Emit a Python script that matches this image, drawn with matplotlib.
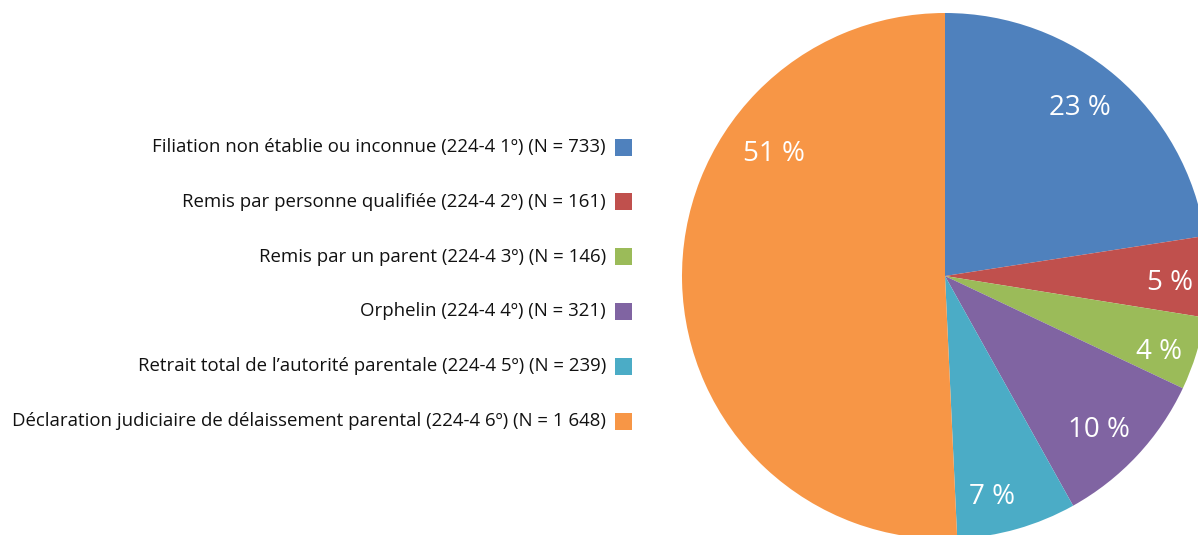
import numpy as np
import matplotlib
matplotlib.use('Agg')
import matplotlib.pyplot as plt
from matplotlib.patches import Rectangle

labels = ['Filiation non établie ou inconnue (224-4 1º) (N = 733)',
          'Remis par personne qualifiée (224-4 2º) (N = 161)',
          'Remis par un parent (224-4 3º) (N = 146)',
          'Orphelin (224-4 4º) (N = 321)',
          "Retrait total de l\u2019autorité parentale (224-4 5º) (N = 239)",
          'Déclaration judiciaire de délaissement parental (224-4 6º) (N = 1 648)']
counts = [733, 161, 146, 321, 239, 1648]
pct_labels = ['23 %', '5 %', '4 %', '10 %', '7 %', '51 %']
colors = ['#4F81BD', '#C0504D', '#9BBB59', '#8064A2', '#4BACC6', '#F79646']

plt.rcParams['font.family'] = ['Open Sans', 'DejaVu Sans']

W, H = 1198, 535
fig = plt.figure(figsize=(W/100, H/100), dpi=100)

# pie
ax = fig.add_axes([682/W, -4/H, 526/W, 526/H])
wedges, _ = ax.pie(counts, colors=colors, startangle=90, counterclock=False,
                   radius=1, wedgeprops=dict(linewidth=0))
ax.set_xlim(-1, 1)
ax.set_ylim(-1, 1)
ax.set_aspect('equal')
ax.axis('off')
# label placement (angle shift from wedge middle, radius) as Excel "best fit"
lab_pos = [(2.0, 0.82), (-1.5, 0.856), (-2.3, 0.863), (-2.0, 0.828), (-4.0, 0.859), (-36.9, 0.80)]
for i, w in enumerate(wedges):
    ang = (w.theta1 + w.theta2) / 2 + lab_pos[i][0]
    r = lab_pos[i][1]
    a = np.deg2rad(ang)
    ax.text(r*np.cos(a), r*np.sin(a), pct_labels[i], color='white',
            fontsize=20, ha='center', va='center')

# legend
lax = fig.add_axes([0, 0, 640/W, 1])
lax.set_xlim(0, 640)
lax.set_ylim(H, 0)
lax.axis('off')
for i, lab in enumerate(labels):
    y = 147 + i*54.8
    lax.text(606, y, lab, ha='right', va='center', fontsize=13.4, color='#111111')
    lax.add_patch(Rectangle((615, y-8.5), 17, 17, color=colors[i], lw=0))

fig.savefig('out.png', dpi=100)
